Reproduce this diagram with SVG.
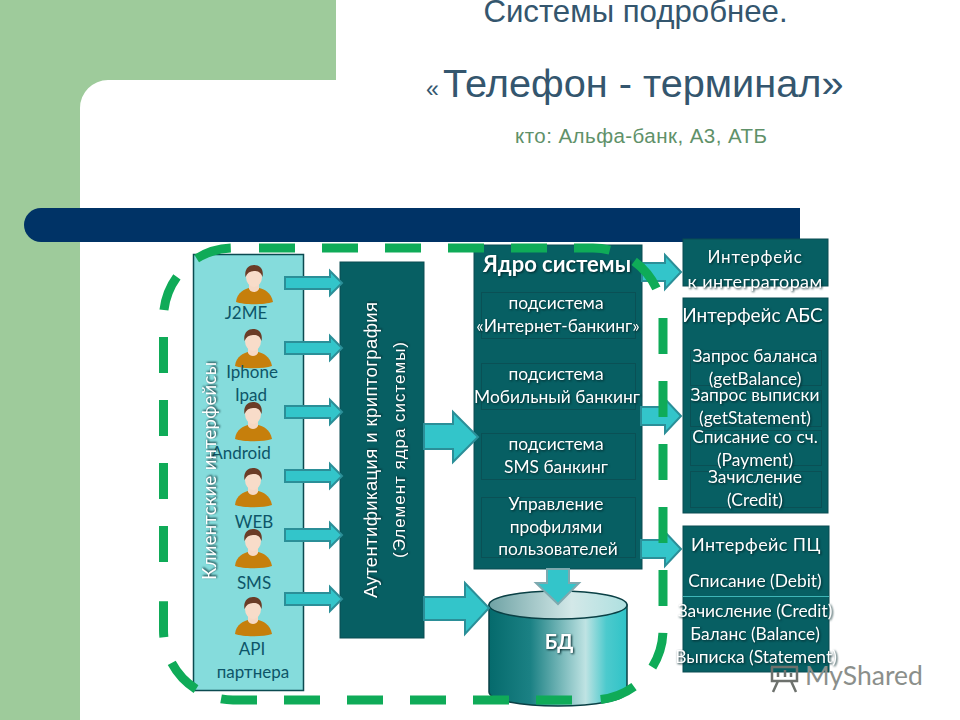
<svg xmlns="http://www.w3.org/2000/svg" width="960" height="720" viewBox="0 0 960 720">
<style>
.t{font-family:"Lato","Liberation Sans",sans-serif;text-anchor:middle}
.a{font-family:"Liberation Sans",Arial,sans-serif}
.w{fill:#fff;filter:drop-shadow(1px 1px 1px #02282c)}
.s16{font-size:17.400px}
.lbl{fill:#0d5568;font-size:17px}
.box{fill:#075f63;stroke:#0a4d52;stroke-width:1}
.sub{fill:none;stroke:#0a5055;stroke-width:1}
.arr{fill:#33c5ca;stroke:#2b8f98;stroke-width:2;stroke-linejoin:miter}
.ttl{fill:#34566e}
</style>
<defs>
<linearGradient id="cyl" x1="0" x2="1" y1="0" y2="0">
<stop offset="0" stop-color="#056a6c"/><stop offset=".3" stop-color="#1b8184"/><stop offset=".7" stop-color="#bfe3e3"/><stop offset=".85" stop-color="#4ccacd"/><stop offset="1" stop-color="#2fc3c7"/>
</linearGradient>
<linearGradient id="cyt" x1="0" x2="1" y1="0" y2="0">
<stop offset="0" stop-color="#6fa3a5"/><stop offset=".6" stop-color="#d3e8e8"/><stop offset="1" stop-color="#aee0e0"/>
</linearGradient>
<g id="person">
<path d="M-18 13C-17 3-9 0-5 -1L5 -1C10 0 17 3 19 13C10 16-10 16-18 13Z" fill="#c67f0c"/>
<path d="M-5 -8L-5 0C-3 4 3 4 5 0L5 -8Z" fill="#f6d8c4"/>
<ellipse cx="0" cy="-12" rx="8" ry="10" fill="#f8dcc9"/>
<path d="M-8.500 -12C-10 -20-5 -24 0 -24C6 -24 10 -20 8.500 -12C7 -17 4 -18 0 -18C-4 -18-7 -16-8.500 -12Z" fill="#6b3c26"/>
</g>
</defs>
<rect width="960" height="720" fill="#fff"/>
<g id="background">
<path d="M0 0H336V80H108A28 28 0 0 0 80 108V720H0Z" fill="#9ecb9b"/>
<path d="M41 208H800V242H41A17 17 0 0 1 41 208Z" fill="#003366"/>
</g>
<g id="title">
<text class="a ttl" x="635.500" y="22" text-anchor="middle" font-size="31.200">Системы подробнее.</text>
<text class="a ttl" x="426" y="97" font-size="39.700"><tspan font-size="23">«</tspan><tspan x="443">Телефон - терминал»</tspan></text>
<text class="a" x="641" y="143" text-anchor="middle" font-size="20.500" fill="#5f9169" textLength="252">кто: Альфа-банк, А3, АТБ</text>
</g>
<g id="clients">
<rect x="193.500" y="254.500" width="110" height="436" fill="#85dcdc" stroke="#0b4a50" stroke-width="1.500"/>
<use href="#person" x="254" y="289"/>
<use href="#person" x="253" y="353"/>
<use href="#person" x="253" y="426"/>
<use href="#person" x="253" y="492"/>
<use href="#person" x="253" y="553"/>
<use href="#person" x="253" y="621"/>
<text class="t lbl" x="246" y="319">J2ME</text>
<text class="t lbl" x="252" y="378">Iphone</text>
<text class="t lbl" x="251" y="401">Ipad</text>
<text class="t lbl" x="241" y="459">Android</text>
<text class="t lbl" x="254" y="528">WEB</text>
<text class="t lbl" x="254" y="589">SMS</text>
<text class="t lbl" x="252" y="655">API</text>
<text class="t lbl" x="253" y="678">партнера</text>
<text class="t w" font-size="18.500" transform="translate(216 471) rotate(-90)" textLength="218">Клиентские  интерфейсы</text>
</g>
<g id="auth">
<rect class="box" x="340" y="262" width="84" height="376"/>
<text class="a w" text-anchor="middle" font-size="18.500" transform="translate(377 450) rotate(-90)" textLength="296">Аутентификация  и криптография</text>
<text class="a w" text-anchor="middle" font-size="17" transform="translate(405 450) rotate(-90)" textLength="216">(Элемент  ядра системы)</text>
</g>
<g id="core">
<rect class="box" x="474" y="245" width="168" height="324"/>
<rect class="sub" x="481.500" y="292.500" width="154" height="46"/>
<rect class="sub" x="481.500" y="363.500" width="154" height="46"/>
<rect class="sub" x="481.500" y="433.500" width="154" height="46"/>
<rect class="sub" x="481.500" y="497.500" width="154" height="60"/>
<text class="t w" x="557" y="272" font-size="22" font-weight="700">Ядро системы</text>
<text class="t w s16" x="556" y="309">подсистема</text>
<text class="t w s16" x="558" y="332">«Интернет-банкинг»</text>
<text class="t w s16" x="556" y="380">подсистема</text>
<text class="t w s16" x="557" y="403">Мобильный банкинг</text>
<text class="t w s16" x="556" y="450">подсистема</text>
<text class="t w s16" x="556" y="473">SMS банкинг</text>
<text class="t w s16" x="556" y="510">Управление</text>
<text class="t w s16" x="556" y="533">профилями</text>
<text class="t w s16" x="558" y="555">пользователей</text>
</g>
<g id="integrators">
<rect class="box" x="683" y="239" width="145" height="47"/>
<text class="t w" x="755" y="263" font-size="17" letter-spacing=".8">Интерфейс</text>
<text class="t w" x="755" y="288" font-size="18" letter-spacing=".4">к интеграторам</text>
</g>
<g id="abs">
<rect class="box" x="683" y="298" width="145" height="215"/>
<rect class="sub" x="690.500" y="350.500" width="131" height="35"/>
<rect class="sub" x="690.500" y="390.500" width="131" height="36"/>
<rect class="sub" x="690.500" y="430.500" width="131" height="35"/>
<rect class="sub" x="690.500" y="471.500" width="131" height="36"/>
<text class="t w" x="752.500" y="322" font-size="19">Интерфейс  АБС</text>
<text class="t w s16" x="755" y="362">Запрос баланса</text>
<text class="t w s16" x="755" y="385">(getBalance)</text>
<text class="t w s16" x="755" y="401">Запрос выписки</text>
<text class="t w s16" x="755" y="424">(getStatement)</text>
<text class="t w s16" x="755" y="443">Списание со сч.</text>
<text class="t w s16" x="755" y="466">(Payment)</text>
<text class="t w s16" x="755" y="483">Зачисление</text>
<text class="t w s16" x="755" y="506">(Credit)</text>
</g>
<g id="pc">
<rect class="box" x="683" y="526" width="146" height="146"/>
<line x1="683" y1="596.500" x2="829" y2="596.500" stroke="#3fb6b8"/>
<text class="t w" x="756" y="551" font-size="18" letter-spacing=".4">Интерфейс  ПЦ</text>
<text class="t w s16" x="755" y="587">Списание (Debit)</text>
<text class="t w s16" x="755" y="617">Зачисление (Credit)</text>
<text class="t w s16" x="755" y="640">Баланс (Balance)</text>
<text class="t w s16" x="756" y="663">Выписка (Statement)</text>
</g>
<g id="db">
<path d="M489 605V692A69 14 0 0 0 627 692V605Z" fill="url(#cyl)" stroke="#0a4045" stroke-width="1.500"/>
<ellipse cx="558" cy="605" rx="69" ry="14" fill="url(#cyt)" stroke="#0a4045" stroke-width="1.500"/>
<text class="t w" x="559" y="649" font-size="20" font-weight="700">БД</text>
</g>
<g id="connectors">
<path class="arr" d="M285 277H330V271L342 283L330 295V289H285Z"/>
<path class="arr" d="M285 342H330V336L342 348L330 360V354H285Z"/>
<path class="arr" d="M285 406H330V400L342 412L330 424V418H285Z"/>
<path class="arr" d="M285 470H330V464L342 476L330 488V482H285Z"/>
<path class="arr" d="M285 529H330V523L342 535L330 547V541H285Z"/>
<path class="arr" d="M285 593H330V587L342 599L330 611V605H285Z"/>
<path class="arr" d="M424 424H453V412L478 437L453 462V449H424Z"/>
<path class="arr" d="M424 597H465V583L489 608L465 634V620H424Z"/>
<path class="arr" d="M642 263H665V255L681 272L665 289V281H642Z"/>
<path class="arr" d="M641 407H665V399L681 416L665 433V425H641Z"/>
<path class="arr" d="M641 540H665V532L681 549L665 566V558H641Z"/>
<path d="M547 569H569V583H579L558 604L536 583H547Z" fill="#33c5ca" stroke="#7ea9af" stroke-width="2"/>
</g>
<g id="boundary">
<path d="M259 248H593A70 70 0 0 1 656.400 288.400M663 318V630A70 70 0 0 1 598 699.800M572 700H233A70 70 0 0 1 163.500 630V589M163.500 562V318A70 70 0 0 1 233 248" fill="none" stroke="#0fab58" stroke-width="9" stroke-dasharray="36 27"/>
</g>
<g id="watermark">
<text x="805" y="685" font-family="Lato,'Liberation Sans',sans-serif" font-size="26.500" fill="#8b8f8b">MyShared</text>
<path d="M771 667H798M772 667V681H797V667M778 672V677M785 670V677M791 673V677M778 681L773 692M791 681L796 692" fill="none" stroke="#6d716d" stroke-width="2.500"/>
</g>
</svg>
